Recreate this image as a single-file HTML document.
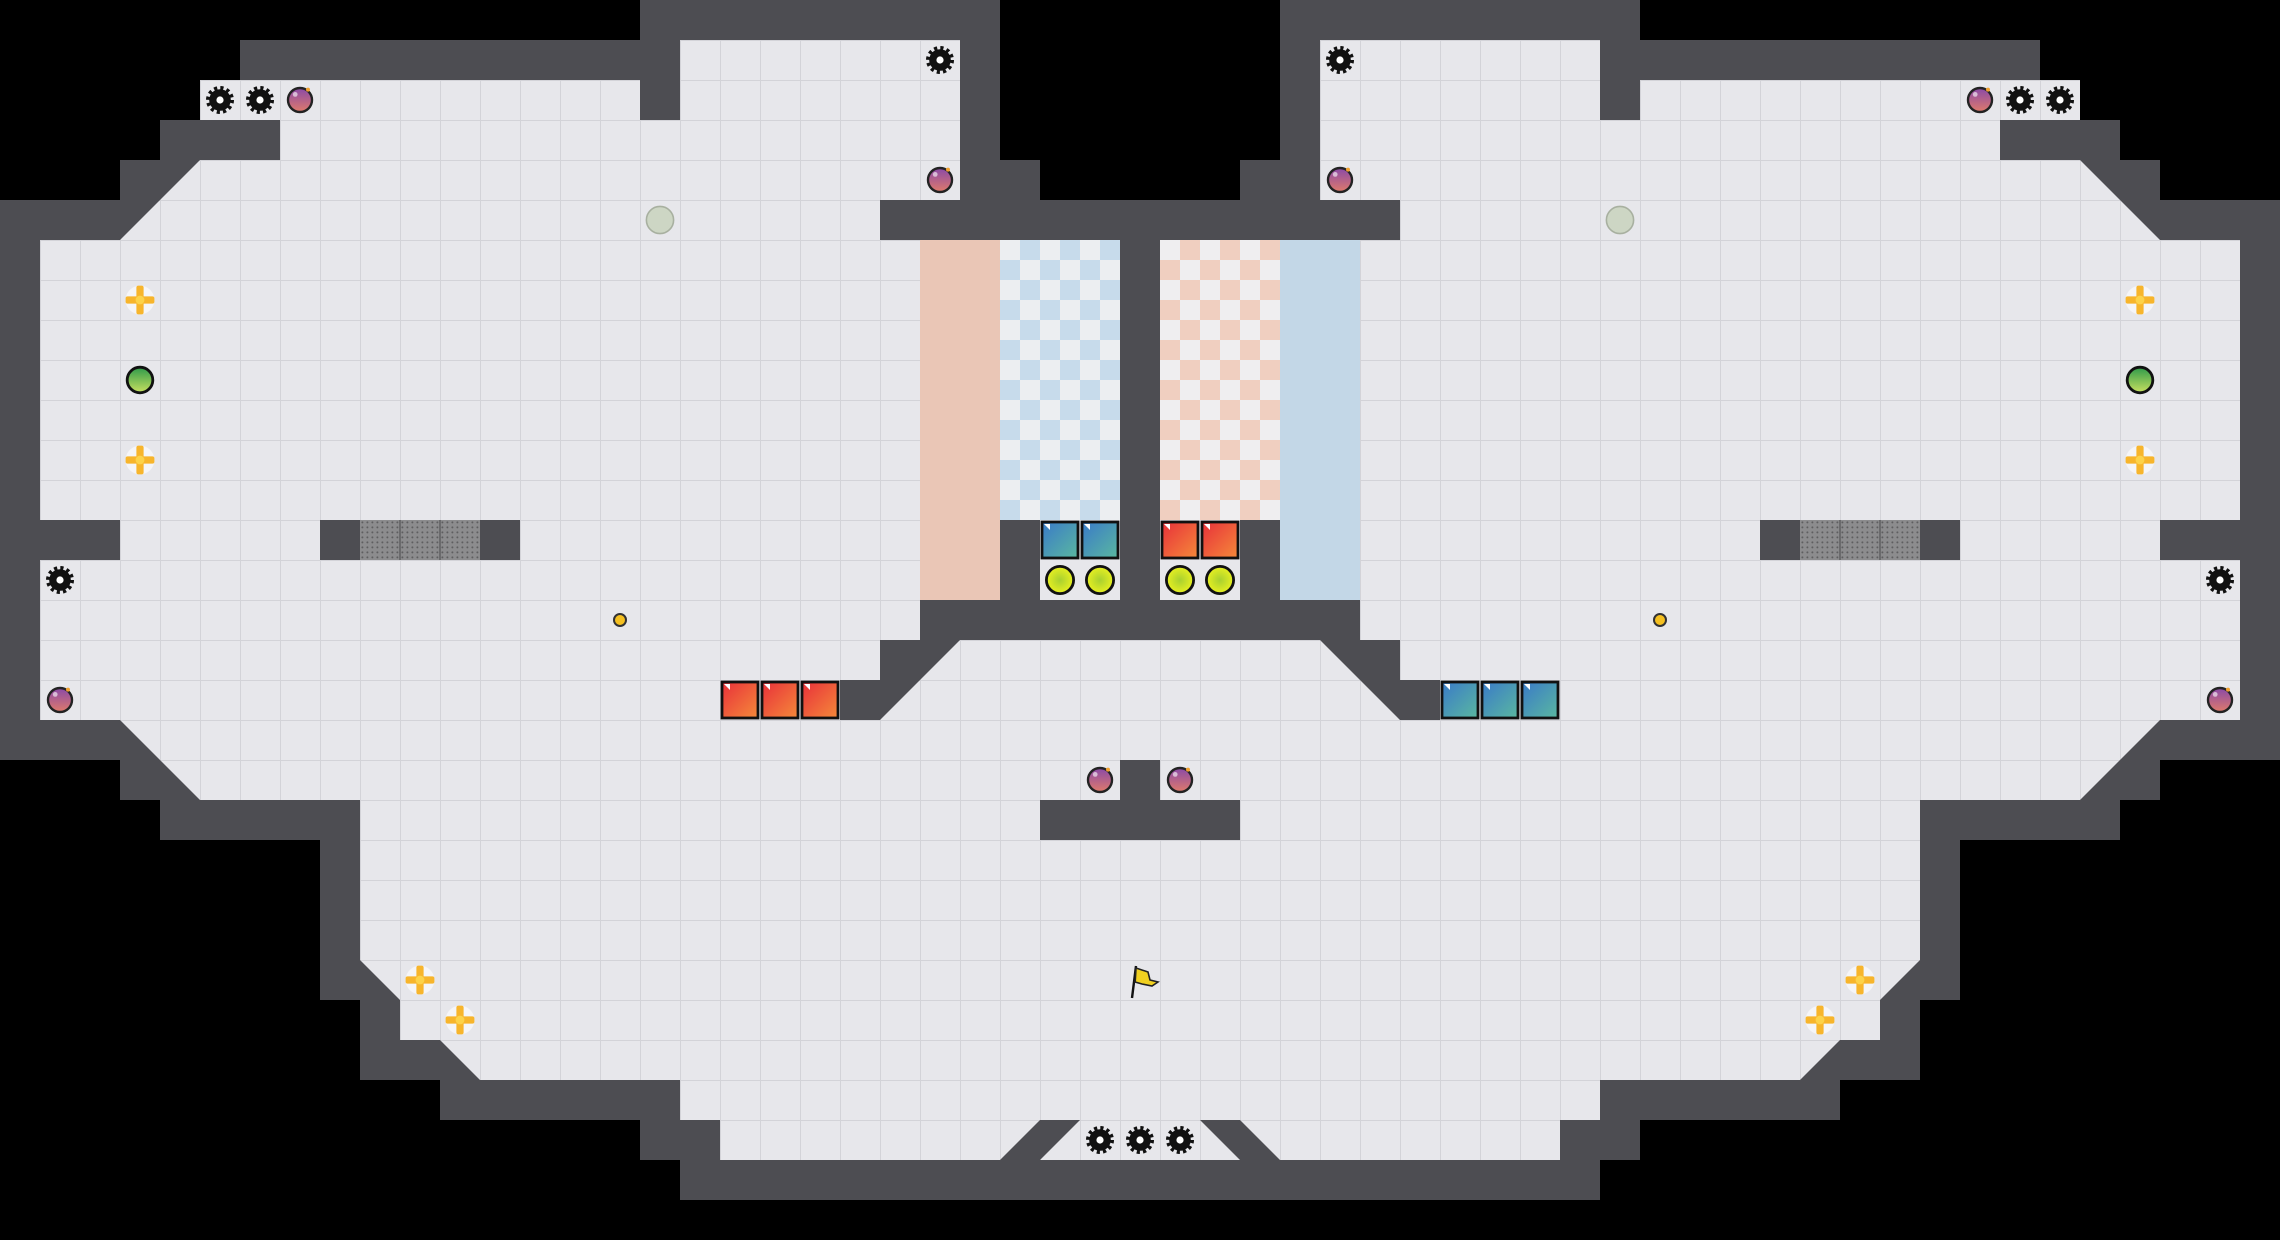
<!DOCTYPE html>
<html><head><meta charset="utf-8"><style>html,body{margin:0;padding:0;background:#000;}svg{display:block;}</style></head>
<body>
<svg width="2280" height="1240" viewBox="0 0 2280 1240" xmlns="http://www.w3.org/2000/svg">
<defs>
<pattern id="fl" width="1" height="1" patternUnits="userSpaceOnUse">
<rect width="1" height="1" fill="#e7e7eb"/>
<path d="M0 0H1M0 0V1" stroke="#d3d3d8" stroke-width="0.05" fill="none"/>
</pattern>
<pattern id="bc" width="1" height="1" patternUnits="userSpaceOnUse">
<rect width="1" height="1" fill="#eceef1"/>
<rect x="0.5" y="0" width="0.5" height="0.5" fill="#c7dbeb"/>
<rect x="0" y="0.5" width="0.5" height="0.5" fill="#c7dbeb"/>
</pattern>
<pattern id="rc" width="1" height="1" patternUnits="userSpaceOnUse">
<rect width="1" height="1" fill="#efeef0"/>
<rect x="0.5" y="0" width="0.5" height="0.5" fill="#f0cfc0"/>
<rect x="0" y="0.5" width="0.5" height="0.5" fill="#f0cfc0"/>
</pattern>
<pattern id="gr" width="0.125" height="0.125" patternUnits="userSpaceOnUse">
<rect width="0.125" height="0.125" fill="#8c8c8e"/>
<circle cx="0.06" cy="0.06" r="0.025" fill="#5e5e60"/>
</pattern>
<linearGradient id="bombg" x1="0" y1="0" x2="0" y2="1"><stop offset="0" stop-color="#8a4aa8"/><stop offset="1" stop-color="#e07a6a"/></linearGradient>
<linearGradient id="red" x1="0" y1="0" x2="1" y2="1"><stop offset="0" stop-color="#e8303a"/><stop offset="1" stop-color="#f58a3a"/></linearGradient>
<linearGradient id="teal" x1="0" y1="0" x2="1" y2="1"><stop offset="0" stop-color="#3a7ac8"/><stop offset="1" stop-color="#5ab8a0"/></linearGradient>
<radialGradient id="yg"><stop offset="0" stop-color="#a8d030"/><stop offset="1" stop-color="#e8f020"/></radialGradient>
<linearGradient id="grn" x1="0" y1="0" x2="0" y2="1"><stop offset="0" stop-color="#2e9a4a"/><stop offset="1" stop-color="#c8e060"/></linearGradient>
<g id="gear">
<circle r="0.27" fill="#111"/>
<circle r="0.3" fill="none" stroke="#111" stroke-width="0.1" stroke-dasharray="0.0785 0.0785"/>
<circle r="0.09" fill="#fff"/>
</g>
<g id="bomb">
<circle r="0.3" fill="url(#bombg)" stroke="#222" stroke-width="0.06"/>
<circle cx="0.2" cy="-0.26" r="0.05" fill="#f0a030"/>
<circle cx="-0.12" cy="-0.14" r="0.06" fill="#fff" opacity="0.6"/>
</g>
<g id="boost">
<circle r="0.36" fill="#fff" opacity="0.6"/>
<rect x="-0.09" y="-0.36" width="0.18" height="0.72" rx="0.05" fill="#f7b52c"/>
<rect x="-0.36" y="-0.09" width="0.72" height="0.18" rx="0.05" fill="#f7b52c"/>
<circle r="0.11" fill="#fcd34a"/>
</g>
<g id="rbox"><rect x="-0.45" y="-0.45" width="0.9" height="0.9" fill="url(#red)" stroke="#111" stroke-width="0.07"/><path d="M-0.4 -0.4h0.15v0.15z" fill="#fff"/></g>
<g id="tbox"><rect x="-0.45" y="-0.45" width="0.9" height="0.9" fill="url(#teal)" stroke="#111" stroke-width="0.07"/><path d="M-0.4 -0.4h0.15v0.15z" fill="#fff"/></g>
<g id="ygc"><circle r="0.34" fill="url(#yg)" stroke="#111" stroke-width="0.07"/></g>
</defs>
<rect width="2280" height="1240" fill="#000"/>
<g transform="scale(40)">
<polygon fill="#4d4d52" points="17,30 17,29 16,29 16,28 11,28 11,27 9,27 9,25 8,25 8,21 4,21 4,20 3,20 3,19 0,19 0,5 3,5 3,4 4,4 4,3 5,3 5,2 6,2 6,1 16,1 16,0 25,0 25,4 26,4 26,5 31,5 31,4 32,4 32,0 41,0 41,1 51,1 51,2 52,2 52,3 53,3 53,4 54,4 54,5 57,5 57,19 54,19 54,20 53,20 53,21 49,21 49,25 48,25 48,27 46,27 46,28 41,28 41,29 40,29 40,30"/>
<polygon points="22,6 22,5 24,5 24,1 17,1 17,3 16,3 16,2 5,2 5,3 7,3 7,4 5,4 3,6 1,6 1,18 3,18 5,20 9,20 9,24 10,25 10,26 11,26 12,27 17,27 17,28 18,28 18,29 39,29 39,28 40,28 40,27 45,27 46,26 47,26 47,25 48,24 48,20 52,20 54,18 56,18 56,6 54,6 52,4 50,4 50,3 52,3 52,2 41,2 41,3 40,3 40,1 33,1 33,5 35,5 35,6" fill="url(#fl)"/>
<rect x="23" y="6" width="2" height="9" fill="#eac6b6"/>
<rect x="25" y="6" width="3" height="7" fill="url(#bc)"/>
<rect x="29" y="6" width="3" height="7" fill="url(#rc)"/>
<rect x="32" y="6" width="2" height="9" fill="#c3d7e7"/>
<rect x="26" y="13" width="2" height="2" fill="#e7e7eb"/>
<rect x="29" y="13" width="2" height="2" fill="#e7e7eb"/>
<g fill="#4d4d52">
<rect x="28" y="6" width="1" height="10"/>
<rect x="23" y="15" width="11" height="1"/>
<rect x="25" y="13" width="1" height="2"/>
<rect x="31" y="13" width="1" height="2"/>
<polygon points="22,16 24,16 22,18 21,18 21,17 22,17"/>
<polygon points="35,16 33,16 35,18 36,18 36,17 35,17"/>
<rect x="1" y="13" width="2" height="1"/>
<rect x="54" y="13" width="2" height="1"/>
<rect x="8" y="13" width="1" height="1"/>
<rect x="12" y="13" width="1" height="1"/>
<rect x="44" y="13" width="1" height="1"/>
<rect x="48" y="13" width="1" height="1"/>
<rect x="26" y="20" width="5" height="1"/>
<rect x="28" y="19" width="1" height="1"/>
<polygon points="25,29 26,28 27,28 26,29"/>
<polygon points="32,29 31,28 30,28 31,29"/>
</g>
<rect x="9" y="13" width="3" height="1" fill="url(#gr)"/>
<rect x="45" y="13" width="3" height="1" fill="url(#gr)"/>
<path d="M10 13V14M11 13V14M46 13V14M47 13V14" stroke="#6a6a6c" stroke-width="0.05"/>
<use href="#gear" x="5.5" y="2.5"/><use href="#gear" x="6.5" y="2.5"/><use href="#gear" x="23.5" y="1.5"/><use href="#gear" x="1.5" y="14.5"/>
<use href="#gear" x="27.5" y="28.5"/><use href="#gear" x="28.5" y="28.5"/><use href="#gear" x="29.5" y="28.5"/>
<use href="#gear" x="51.5" y="2.5"/><use href="#gear" x="50.5" y="2.5"/><use href="#gear" x="33.5" y="1.5"/><use href="#gear" x="55.5" y="14.5"/>
<use href="#bomb" x="7.5" y="2.5"/><use href="#bomb" x="23.5" y="4.5"/><use href="#bomb" x="1.5" y="17.5"/><use href="#bomb" x="27.5" y="19.5"/>
<use href="#bomb" x="49.5" y="2.5"/><use href="#bomb" x="33.5" y="4.5"/><use href="#bomb" x="55.5" y="17.5"/><use href="#bomb" x="29.5" y="19.5"/>
<use href="#boost" x="3.5" y="7.5"/><use href="#boost" x="3.5" y="11.5"/><use href="#boost" x="10.5" y="24.5"/><use href="#boost" x="11.5" y="25.5"/>
<use href="#boost" x="53.5" y="7.5"/><use href="#boost" x="53.5" y="11.5"/><use href="#boost" x="46.5" y="24.5"/><use href="#boost" x="45.5" y="25.5"/>
<circle cx="3.5" cy="9.5" r="0.32" fill="url(#grn)" stroke="#111" stroke-width="0.07"/>
<circle cx="53.5" cy="9.5" r="0.32" fill="url(#grn)" stroke="#111" stroke-width="0.07"/>
<circle cx="16.5" cy="5.5" r="0.34" fill="#cdd6c4" stroke="#a8b0a0" stroke-width="0.04"/>
<circle cx="40.5" cy="5.5" r="0.34" fill="#cdd6c4" stroke="#a8b0a0" stroke-width="0.04"/>
<circle cx="15.5" cy="15.5" r="0.15" fill="#f5c020" stroke="#333" stroke-width="0.05"/>
<circle cx="41.5" cy="15.5" r="0.15" fill="#f5c020" stroke="#333" stroke-width="0.05"/>
<use href="#rbox" x="18.5" y="17.5"/><use href="#rbox" x="19.5" y="17.5"/><use href="#rbox" x="20.5" y="17.5"/>
<use href="#rbox" x="29.5" y="13.5"/><use href="#rbox" x="30.5" y="13.5"/>
<use href="#tbox" x="36.5" y="17.5"/><use href="#tbox" x="37.5" y="17.5"/><use href="#tbox" x="38.5" y="17.5"/>
<use href="#tbox" x="26.5" y="13.5"/><use href="#tbox" x="27.5" y="13.5"/>
<use href="#ygc" x="26.5" y="14.5"/><use href="#ygc" x="27.5" y="14.5"/><use href="#ygc" x="29.5" y="14.5"/><use href="#ygc" x="30.5" y="14.5"/>
<g transform="translate(28.5,24.5)">
<line x1="-0.2" y1="0.45" x2="-0.1" y2="-0.35" stroke="#111" stroke-width="0.06"/>
<polygon points="-0.1,-0.3 0.2,-0.2 0.25,0 0.45,0.05 0.3,0.15 0.05,0.1 -0.12,0.05" fill="#f0d020" stroke="#222" stroke-width="0.04"/>
</g>
</g>
</svg>
</body></html>
